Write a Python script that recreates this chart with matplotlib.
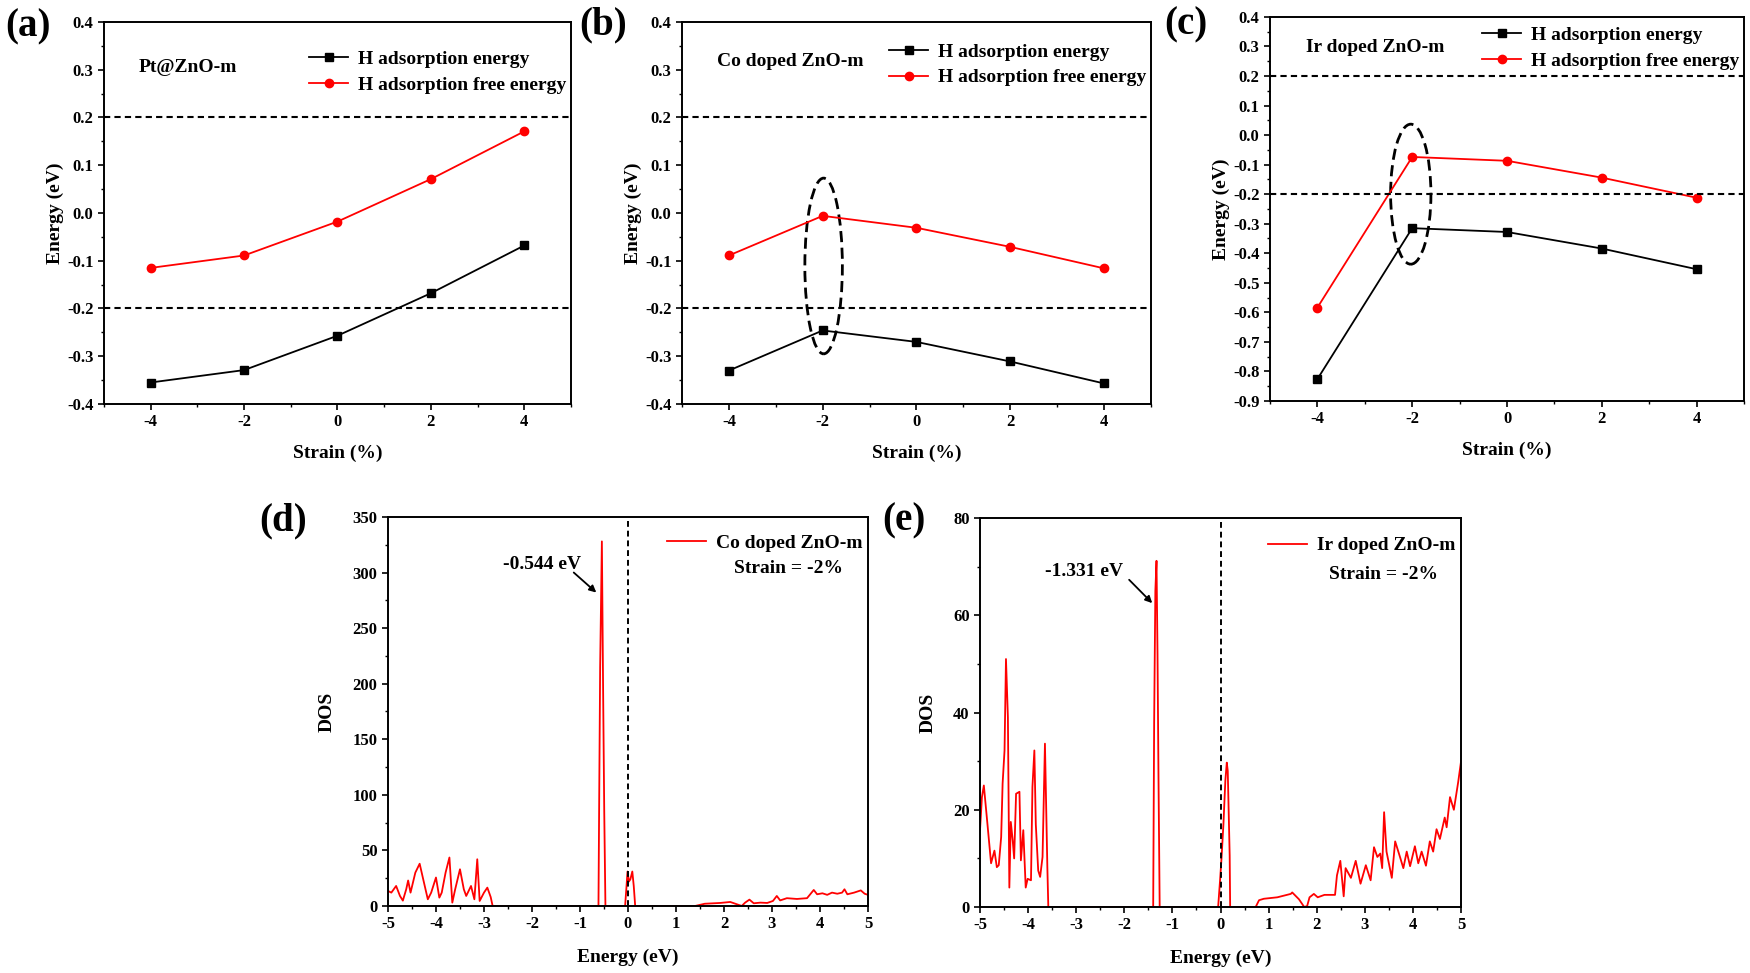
import matplotlib
matplotlib.use('Agg')
import matplotlib.pyplot as plt
from matplotlib.patches import Ellipse
from matplotlib.ticker import MultipleLocator

# ---- data ----
strain = [-4, -2, 0, 2, 4]

pt_ads = [-0.355, -0.329, -0.257, -0.168, -0.068]
pt_free = [-0.115, -0.089, -0.018, 0.071, 0.171]

co_ads = [-0.330, -0.246, -0.270, -0.311, -0.357]
co_free = [-0.089, -0.006, -0.031, -0.071, -0.116]

ir_ads = [-0.826, -0.315, -0.328, -0.384, -0.454]
ir_free = [-0.584, -0.074, -0.087, -0.144, -0.212]

# DOS, Co doped ZnO-m, strain -2 %
co_energy = [-5.0, -4.93, -4.83, -4.75, -4.69, -4.62, -4.58, -4.53, -4.43, -4.34, -4.25,
             -4.17, -4.1, -4.0, -3.93, -3.88, -3.8, -3.72, -3.66, -3.6, -3.5, -3.42,
             -3.37, -3.27, -3.2, -3.14, -3.09, -3.0, -2.93, -2.86, -2.82,
             -0.615, -0.60, -0.58, -0.544, -0.52, -0.495, -0.47,
             -0.06, -0.03, -0.01, 0.02, 0.05, 0.09, 0.12, 0.15,
             1.4, 1.6, 1.92, 2.13, 2.27, 2.37, 2.44, 2.53, 2.62, 2.76, 2.9, 3.02, 3.1,
             3.17, 3.31, 3.52, 3.73, 3.87, 3.94, 4.05, 4.15, 4.25, 4.36, 4.46, 4.51,
             4.57, 4.71, 4.85, 4.93, 5.0]
co_dos = [13.5, 12, 18, 9, 4.8, 15, 22.9, 12, 30, 38, 21,
          6, 12, 25.6, 7.5, 12, 30, 43.6, 3, 15, 33, 15,
          9, 18, 6, 42, 4.5, 12, 16.5, 8, 0,
          0, 95, 215, 328, 203, 86, 0,
          0, 18, 31, 22, 24, 31, 18, 0,
          0, 2, 2.7, 3.6, 1.5, 0, 3, 5.7, 2.4, 3, 2.7, 4.5, 9,
          5, 7, 6.3, 7, 14.4, 10.5, 11.4, 10, 12, 11, 12, 15,
          10.5, 12, 14, 11, 10]
co_peak = -0.544

# DOS, Ir doped ZnO-m, strain -2 %
ir_energy = [-5.0, -4.96, -4.92, -4.84, -4.77, -4.7, -4.65, -4.61, -4.56, -4.53, -4.49,
             -4.46, -4.42, -4.39, -4.36, -4.32, -4.29, -4.25, -4.18, -4.15, -4.1, -4.05,
             -4.01, -3.94, -3.91, -3.87, -3.84, -3.79, -3.75, -3.7, -3.65, -3.6, -3.58,
             -1.40, -1.38, -1.355, -1.331, -1.31, -1.29, -1.265,
             -0.05, -0.01, 0.02, 0.06, 0.10, 0.13, 0.15, 0.19, 0.2,
             0.73, 0.80, 0.9, 1.18, 1.46, 1.49, 1.63, 1.74, 1.8, 1.85, 1.94, 2.02, 2.16,
             2.38, 2.42, 2.49, 2.56, 2.6, 2.71, 2.81, 2.91, 3.02, 3.12, 3.19, 3.26, 3.32,
             3.36, 3.4, 3.45, 3.56, 3.63, 3.73, 3.8, 3.87, 3.94, 4.04, 4.11, 4.18, 4.27,
             4.35, 4.42, 4.49, 4.56, 4.66, 4.7, 4.77, 4.85, 4.94, 5.0]
ir_dos = [15.8, 22.6, 25, 16.5, 9, 11.6, 8.2, 8.6, 14.4, 25.4, 32.2,
          51, 39, 4, 17.5, 13.7, 10, 23.3, 23.7, 9.6, 15.8, 4,
          5.8, 5.5, 24.7, 32.2, 17, 7.5, 6.2, 10.3, 33.6, 8.2, 0,
          0, 38, 65, 71.2, 52, 27, 0,
          0, 5.5, 10, 17, 26, 29.7, 28, 10.6, 0,
          0, 1.4, 1.7, 2, 2.7, 3, 1.6, 0, 0.2, 2, 2.7, 2, 2.5,
          2.5, 6.5, 9.5, 2.2, 8, 6, 9.5, 4.8, 8.6, 5.5, 12.3, 10.3, 11,
          8, 19.5, 11.4, 6, 13.5, 10.3, 8, 11.4, 8.4, 12.5, 9, 11.4, 8.5,
          13.5, 11.4, 16, 14, 18.4, 16.4, 22.6, 20, 25.7, 30]
ir_peak = -1.331

plt.rcParams['font.family'] = ['Liberation Serif', 'DejaVu Serif']
plt.rcParams['font.weight'] = 'bold'
plt.rcParams['axes.labelweight'] = 'bold'
plt.rcParams['axes.unicode_minus'] = False
plt.rcParams['axes.linewidth'] = 1.4
plt.rcParams['xtick.major.width'] = 1.2
plt.rcParams['ytick.major.width'] = 1.2
plt.rcParams['xtick.minor.width'] = 1.0
plt.rcParams['ytick.minor.width'] = 1.0
plt.rcParams['xtick.major.size'] = 4
plt.rcParams['ytick.major.size'] = 4
plt.rcParams['xtick.minor.size'] = 2.5
plt.rcParams['ytick.minor.size'] = 2.5

fig = plt.figure(figsize=(17.5, 9.73), dpi=100)

ax_a = fig.add_axes([0.0594, 0.5848, 0.2669, 0.3926])
ax_b = fig.add_axes([0.3897, 0.5848, 0.2680, 0.3926])
ax_c = fig.add_axes([0.7257, 0.5879, 0.2709, 0.3947])
ax_d = fig.add_axes([0.2217, 0.0689, 0.2743, 0.3998])
ax_e = fig.add_axes([0.5600, 0.0678, 0.2749, 0.3998])


def strain_panel(ax, ads, free, name, ylo, name_y, leg_y):
    ax.plot(strain, ads, color='black', marker='s', ms=6, lw=1.3,
            label='H adsorption energy')
    ax.plot(strain, free, color='red', marker='o', ms=6, lw=1.3,
            label='H adsorption free energy')
    ax.axhline(0.2, color='black', ls=(0, (3, 2)), lw=1.5)
    ax.axhline(-0.2, color='black', ls=(0, (3, 2)), lw=1.5)
    ax.set_xlim(-5, 5)
    ax.set_ylim(ylo, 0.4)
    ax.set_xticks([-4, -2, 0, 2, 4])
    ax.xaxis.set_minor_locator(MultipleLocator(1))
    ax.yaxis.set_major_locator(MultipleLocator(0.1))
    ax.yaxis.set_minor_locator(MultipleLocator(0.05))
    ax.yaxis.set_major_formatter(matplotlib.ticker.FormatStrFormatter('%.1f'))
    ax.tick_params(labelsize=12, which='both', direction='out')
    ax.set_xlabel('Strain (%)', fontsize=14, labelpad=10)
    ax.set_ylabel('Energy (eV)', fontsize=14, labelpad=2)
    ax.text(-4.25, name_y, name, fontsize=14, ha='left', va='center')
    ax.legend(loc='upper right', bbox_to_anchor=(0.99, leg_y), frameon=False,
              fontsize=14, handlelength=2.0, handletextpad=0.5,
              labelspacing=0.42, borderaxespad=0, borderpad=0)


strain_panel(ax_a, pt_ads, pt_free, 'Pt@ZnO-m', -0.4, 0.305, 0.925)
strain_panel(ax_b, co_ads, co_free, 'Co doped ZnO-m', -0.4, 0.318, 0.945)
strain_panel(ax_c, ir_ads, ir_free, 'Ir doped ZnO-m', -0.9, 0.298, 0.975)

ax_b.add_patch(Ellipse((-1.98, -0.111), 0.8, 0.368, fill=False,
                       edgecolor='black', lw=2, ls=(0, (4, 2))))
ax_c.add_patch(Ellipse((-2.03, -0.2), 0.85, 0.474, fill=False,
                       edgecolor='black', lw=2, ls=(0, (4, 2))))


def dos_panel(ax, energy, dos, name, ytop, ymaj, ymin, leg_y, strain_xy):
    ax.plot(energy, dos, color='red', lw=1.3, label=name)
    ax.axvline(0, color='black', ls=(0, (3, 2)), lw=1.4)
    ax.set_xlim(-5, 5)
    ax.set_ylim(0, ytop)
    ax.xaxis.set_major_locator(MultipleLocator(1))
    ax.xaxis.set_minor_locator(MultipleLocator(0.5))
    ax.yaxis.set_major_locator(MultipleLocator(ymaj))
    ax.yaxis.set_minor_locator(MultipleLocator(ymin))
    ax.tick_params(labelsize=12, which='both', direction='out')
    ax.set_xlabel('Energy (eV)', fontsize=14, labelpad=12)
    ax.set_ylabel('DOS', fontsize=14, labelpad=12)
    ax.legend(loc='upper right', bbox_to_anchor=(0.988, leg_y), frameon=False,
              fontsize=14, handlelength=2.0, handletextpad=0.5,
              borderaxespad=0, borderpad=0)
    ax.text(strain_xy[0], strain_xy[1], 'Strain = -2%', fontsize=14,
            ha='center', va='center', transform=ax.transAxes)


dos_panel(ax_d, co_energy, co_dos, 'Co doped ZnO-m', 350, 50, 25, 0.955, (0.834, 0.868))
dos_panel(ax_e, ir_energy, ir_dos, 'Ir doped ZnO-m', 80, 20, 10, 0.952, (0.838, 0.856))

ax_d.text(-1.78, 307, '%.3f eV' % co_peak, fontsize=14, ha='center', va='center')
ax_d.annotate('', xy=(-0.66, 282), xytext=(-1.13, 300),
              arrowprops=dict(arrowstyle='-|>', color='black', lw=1.3,
                              mutation_scale=10, shrinkA=0, shrinkB=0))
ax_e.text(-2.84, 69, '%.3f eV' % ir_peak, fontsize=14, ha='center', va='center')
ax_e.annotate('', xy=(-1.42, 62.5), xytext=(-1.9, 67.3),
              arrowprops=dict(arrowstyle='-|>', color='black', lw=1.3,
                              mutation_scale=10, shrinkA=0, shrinkB=0))

for lab, x, y in [('(a)', 0.003, 0.972), ('(b)', 0.331, 0.974), ('(c)', 0.665, 0.974),
                  ('(d)', 0.148, 0.465), ('(e)', 0.504, 0.465)]:
    fig.text(x, y, lab, fontsize=28, ha='left', va='center')

fig.savefig('out.png', dpi=100)
